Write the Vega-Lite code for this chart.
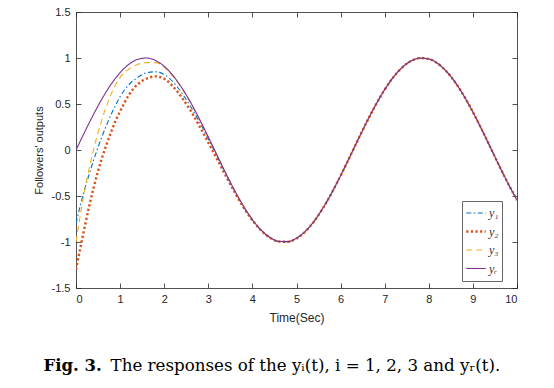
{
  "$schema": "https://vega.github.io/schema/vega-lite/v6.json",
  "width": 441,
  "height": 276,
  "autosize": {"type": "none"},
  "padding": {"left": 76, "top": 12, "right": 37, "bottom": 100},
  "background": "white",
  "config": {
    "view": {"stroke": null},
    "axis": {"domainColor": "#262626", "tickColor": "#262626", "labelColor": "#262626", "titleColor": "#262626", "labelFont": "Liberation Sans", "titleFont": "Liberation Sans", "labelFontSize": 11, "titleFontWeight": "normal", "grid": false, "domainWidth": 0.8, "tickWidth": 0.8}
  },
  "data": {"values": [
    {"t": 0, "y1": -0.80, "y2": -1.30, "y3": -1.00, "yr": 0},
    {"t": 0.1, "y1": -0.60, "y2": -1.06, "y3": -0.70, "yr": 0.0998},
    {"t": 0.2, "y1": -0.42, "y2": -0.83, "y3": -0.43, "yr": 0.1987},
    {"t": 0.3, "y1": -0.26, "y2": -0.61, "y3": -0.20, "yr": 0.2955},
    {"t": 0.4, "y1": -0.11, "y2": -0.41, "y3": 0.01, "yr": 0.3894},
    {"t": 0.5, "y1": 0.03, "y2": -0.23, "y3": 0.19, "yr": 0.4794},
    {"t": 0.6, "y1": 0.16, "y2": -0.07, "y3": 0.35, "yr": 0.5646},
    {"t": 0.7, "y1": 0.28, "y2": 0.07, "y3": 0.49, "yr": 0.6442},
    {"t": 0.8, "y1": 0.39, "y2": 0.20, "y3": 0.61, "yr": 0.7174},
    {"t": 0.9, "y1": 0.49, "y2": 0.32, "y3": 0.71, "yr": 0.7833},
    {"t": 1.0, "y1": 0.58, "y2": 0.42, "y3": 0.79, "yr": 0.8415},
    {"t": 1.2, "y1": 0.71, "y2": 0.60, "y3": 0.88, "yr": 0.9320},
    {"t": 1.4, "y1": 0.79, "y2": 0.715, "y3": 0.93, "yr": 0.9854},
    {"t": 1.6, "y1": 0.84, "y2": 0.775, "y3": 0.95, "yr": 0.9996},
    {"t": 1.8, "y1": 0.85, "y2": 0.80, "y3": 0.95, "yr": 0.9738},
    {"t": 2.0, "y1": 0.82, "y2": 0.775, "y3": 0.90, "yr": 0.9093},
    {"t": 2.2, "y1": 0.74, "y2": 0.69, "y3": 0.80, "yr": 0.8085},
    {"t": 2.4, "y1": 0.62, "y2": 0.57, "y3": 0.67, "yr": 0.6755},
    {"t": 2.6, "y1": 0.47, "y2": 0.425, "y3": 0.512, "yr": 0.5155},
    {"t": 2.8, "y1": 0.305, "y2": 0.26, "y3": 0.333, "yr": 0.3350},
    {"t": 3.0, "y1": 0.12, "y2": 0.08, "y3": 0.140, "yr": 0.1411},
    {"t": 3.2, "y1": -0.07, "y2": -0.10, "y3": -0.059, "yr": -0.0584},
    {"t": 3.4, "y1": -0.265, "y2": -0.285, "y3": -0.256, "yr": -0.2555},
    {"t": 3.6, "y1": -0.450, "y2": -0.462, "y3": -0.443, "yr": -0.4425},
    {"t": 3.8, "y1": -0.618, "y2": -0.625, "y3": -0.612, "yr": -0.6119},
    {"t": 4.0, "y1": -0.760, "y2": -0.765, "y3": -0.757, "yr": -0.7568},
    {"t": 4.2, "y1": -0.873, "y2": -0.876, "y3": -0.872, "yr": -0.8716},
    {"t": 4.4, "y1": -0.952, "y2": -0.954, "y3": -0.952, "yr": -0.9516},
    {"t": 4.6, "y1": -0.994, "y2": -0.995, "y3": -0.994, "yr": -0.9937},
    {"t": 4.8, "y1": -0.996, "y2": -0.998, "y3": -0.996, "yr": -0.9962},
    {"t": 5.0, "y1": -0.959, "y2": -0.962, "y3": -0.959, "yr": -0.9589},
    {"t": 5.2, "y1": -0.883, "y2": -0.886, "y3": -0.883, "yr": -0.8835},
    {"t": 5.4, "y1": -0.773, "y2": -0.775, "y3": -0.773, "yr": -0.7728},
    {"t": 5.6, "y1": -0.631, "y2": -0.632, "y3": -0.631, "yr": -0.6313},
    {"t": 5.8, "y1": -0.4646, "y2": -0.4646, "y3": -0.4646, "yr": -0.4646},
    {"t": 6.0, "y1": -0.2794, "y2": -0.2794, "y3": -0.2794, "yr": -0.2794},
    {"t": 6.2, "y1": -0.0831, "y2": -0.0831, "y3": -0.0831, "yr": -0.0831},
    {"t": 6.4, "y1": 0.1165, "y2": 0.1165, "y3": 0.1165, "yr": 0.1165},
    {"t": 6.6, "y1": 0.3115, "y2": 0.3115, "y3": 0.3115, "yr": 0.3115},
    {"t": 6.8, "y1": 0.4941, "y2": 0.4941, "y3": 0.4941, "yr": 0.4941},
    {"t": 7.0, "y1": 0.6570, "y2": 0.6570, "y3": 0.6570, "yr": 0.6570},
    {"t": 7.2, "y1": 0.7937, "y2": 0.7937, "y3": 0.7937, "yr": 0.7937},
    {"t": 7.4, "y1": 0.8987, "y2": 0.8987, "y3": 0.8987, "yr": 0.8987},
    {"t": 7.6, "y1": 0.9679, "y2": 0.9679, "y3": 0.9679, "yr": 0.9679},
    {"t": 7.8, "y1": 0.9985, "y2": 0.9985, "y3": 0.9985, "yr": 0.9985},
    {"t": 8.0, "y1": 0.9894, "y2": 0.9894, "y3": 0.9894, "yr": 0.9894},
    {"t": 8.2, "y1": 0.9407, "y2": 0.9407, "y3": 0.9407, "yr": 0.9407},
    {"t": 8.4, "y1": 0.8546, "y2": 0.8546, "y3": 0.8546, "yr": 0.8546},
    {"t": 8.6, "y1": 0.7344, "y2": 0.7344, "y3": 0.7344, "yr": 0.7344},
    {"t": 8.8, "y1": 0.5849, "y2": 0.5849, "y3": 0.5849, "yr": 0.5849},
    {"t": 9.0, "y1": 0.4121, "y2": 0.4121, "y3": 0.4121, "yr": 0.4121},
    {"t": 9.2, "y1": 0.2229, "y2": 0.2229, "y3": 0.2229, "yr": 0.2229},
    {"t": 9.4, "y1": 0.0248, "y2": 0.0248, "y3": 0.0248, "yr": 0.0248},
    {"t": 9.6, "y1": -0.1743, "y2": -0.1743, "y3": -0.1743, "yr": -0.1743},
    {"t": 9.8, "y1": -0.3665, "y2": -0.3665, "y3": -0.3665, "yr": -0.3665},
    {"t": 10.0, "y1": -0.5440, "y2": -0.5440, "y3": -0.5440, "yr": -0.5440}
  ]},
  "layer": [
    {
      "transform": [{"fold": ["y1", "y2", "y3", "yr"], "as": ["series", "value"]}],
      "mark": {"type": "line", "interpolate": "monotone", "clip": true},
      "encoding": {
        "x": {"field": "t", "type": "quantitative", "scale": {"domain": [0, 10], "nice": false},
          "axis": {"values": [0, 1, 2, 3, 4, 5, 6, 7, 8, 9, 10], "tickSize": -5, "labelPadding": 10, "title": "Time(Sec)", "titleFontSize": 12, "titlePadding": 8, "labelExpr": "'' + datum.value"}},
        "y": {"field": "value", "type": "quantitative", "scale": {"domain": [-1.5, 1.5], "nice": false},
          "axis": {"values": [-1.5, -1, -0.5, 0, 0.5, 1, 1.5], "tickSize": -5, "labelPadding": 11, "title": "Followers' outputs", "titleFontSize": 11, "titlePadding": 7, "labelExpr": "'' + datum.value"}},
        "color": {"field": "series", "type": "nominal",
          "scale": {"domain": ["y1", "y2", "y3", "yr"], "range": ["#0072BD", "#D95319", "#EDB120", "#7E2F8E"]},
          "legend": {"orient": "none", "legendX": 386, "legendY": 189, "title": null, "symbolType": "stroke", "symbolSize": 380, "clipHeight": 18, "rowPadding": 0.5, "padding": 3, "strokeColor": "#666666", "fillColor": "white", "labelFont": "Liberation Serif", "labelFontStyle": "italic", "labelFontSize": 12, "labelColor": "#333333", "labelOffset": 2, "labelExpr": "datum.label == 'y1' ? 'y₁' : datum.label == 'y2' ? 'y₂' : datum.label == 'y3' ? 'y₃' : 'yᵣ'"}},
        "strokeDash": {"field": "series", "type": "nominal",
          "scale": {"domain": ["y1", "y2", "y3", "yr"], "range": [[5, 2.5, 1.5, 2.5], [2.2, 2.4], [6, 4], [1, 0]]},
          "legend": {"orient": "none", "legendX": 386, "legendY": 189, "title": null, "symbolType": "stroke", "symbolSize": 380, "clipHeight": 18, "rowPadding": 0.5, "padding": 3, "strokeColor": "#666666", "fillColor": "white", "labelFont": "Liberation Serif", "labelFontStyle": "italic", "labelFontSize": 12, "labelColor": "#333333", "labelOffset": 2, "labelExpr": "datum.label == 'y1' ? 'y₁' : datum.label == 'y2' ? 'y₂' : datum.label == 'y3' ? 'y₃' : 'yᵣ'"}},
        "strokeWidth": {"field": "series", "type": "nominal",
          "scale": {"type": "ordinal", "domain": ["y1", "y2", "y3", "yr"], "range": [1.1, 2.4, 1.1, 1.1]},
          "legend": {"orient": "none", "legendX": 386, "legendY": 189, "title": null, "symbolType": "stroke", "symbolSize": 380, "clipHeight": 18, "rowPadding": 0.5, "padding": 3, "strokeColor": "#666666", "fillColor": "white", "labelFont": "Liberation Serif", "labelFontStyle": "italic", "labelFontSize": 12, "labelColor": "#333333", "labelOffset": 2, "labelExpr": "datum.label == 'y1' ? 'y₁' : datum.label == 'y2' ? 'y₂' : datum.label == 'y3' ? 'y₃' : 'yᵣ'"}}
      }
    },
    {
      "mark": {"type": "point", "opacity": 0},
      "encoding": {
        "x": {"field": "t", "type": "quantitative", "scale": {"domain": [0, 10], "nice": false},
          "axis": {"orient": "top", "values": [0, 1, 2, 3, 4, 5, 6, 7, 8, 9, 10], "labels": false, "title": null, "tickSize": -5}},
        "y": {"field": "yr", "type": "quantitative", "scale": {"domain": [-1.5, 1.5], "nice": false},
          "axis": {"orient": "right", "values": [-1.5, -1, -0.5, 0, 0.5, 1, 1.5], "labels": false, "title": null, "tickSize": -5}}
      }
    },
    {
      "mark": {"type": "point", "opacity": 0},
      "encoding": {
        "x": {"field": "t", "type": "quantitative", "scale": {"domain": [0, 10], "nice": false},
          "axis": {"orient": "bottom", "domain": false, "ticks": false, "labels": false, "title": "Fig. 3.", "titleFont": "DejaVu Serif", "titleFontSize": 16.5, "titleFontWeight": "bold", "titleColor": "#000000", "titleX": -33, "titleY": 82, "titleAlign": "left", "titleBaseline": "alphabetic"}}
      }
    },
    {
      "mark": {"type": "point", "opacity": 0},
      "encoding": {
        "x": {"field": "t", "type": "quantitative", "scale": {"domain": [0, 10], "nice": false},
          "axis": {"orient": "bottom", "domain": false, "ticks": false, "labels": false, "title": "The responses of the yᵢ(t), i = 1, 2, 3 and yᵣ(t).", "titleFont": "DejaVu Serif", "titleFontSize": 16.7, "titleFontWeight": "normal", "titleColor": "#000000", "titleX": 34, "titleY": 82, "titleAlign": "left", "titleBaseline": "alphabetic"}}
      }
    }
  ],
  "resolve": {"axis": {"x": "independent", "y": "independent"}}
}
